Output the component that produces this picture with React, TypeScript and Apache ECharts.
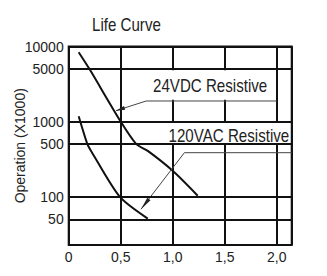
import React, { useEffect, useRef } from "react";
import * as echarts from "echarts";

const titleText = "Life Curve";
const yAxisName = "Operation (X1000)";
const xTickValues = [0, 0.5, 1.0, 1.5, 2.0];
const yGridValues = [10000, 5000, 1000, 500, 100, 50];
const labelNames = ["24VDC Resistive", "120VAC Resistive"];

// 24VDC Resistive curve
const vdcX = [0.096, 0.2, 0.5, 0.65, 0.76, 1.0, 1.24];
const vdcY = [8400, 5000, 1000, 500, 407, 221, 103];
// 120VAC Resistive curve
const vacX = [0.096, 0.18, 0.218, 0.49, 0.76];
const vacY = [1180, 500, 400, 100, 51];

// annotation leaders (data coordinates)
const vdcLeaderX = [0.455, 0.745, 2.0];
const vdcLeaderY = [1397, 1880, 1880];
const vacLeaderX = [0.695, 1.112, 2.144];
const vacLeaderY = [68, 385, 385];
const vdcLabelPos = [1.36, 3000];
const vacLabelPos = [1.54, 650];
const vdcBox = [[0.72, 5000], [1.985, 1880]];
const vacBox = [[0.88, 1000], [2.13, 500]];
const titlePos = [0.555, 12000];

const X_MAX = 2.144;
const Y_MIN = 22.7;
const Y_MAX = 10000;

const FONT = "'Liberation Sans', Arial, sans-serif";
const INK = "#111";
const TXT = "#222";
const NARROW = 0.84;

function arrowHead(tip: number[], from: number[], len: number, hw: number) {
  const dx = from[0] - tip[0];
  const dy = from[1] - tip[1];
  const d = Math.hypot(dx, dy) || 1;
  const ux = dx / d, uy = dy / d;
  const bx = tip[0] + ux * len, by = tip[1] + uy * len;
  return [
    [tip[0], tip[1]],
    [bx - uy * hw, by + ux * hw],
    [bx + uy * hw, by - ux * hw],
  ];
}

export default function App() {
  const ref = useRef<HTMLDivElement>(null);
  useEffect(() => {
    if (!ref.current) return;
    const chart = echarts.init(ref.current, null, { renderer: "svg" });
    const zip = (xs: number[], ys: number[]) => xs.map((x, i) => [x, ys[i]]);
    chart.setOption({
      animation: false,
      grid: {
        left: 68.7,
        right: 35.3,
        top: 46.5,
        bottom: 31,
        show: true,
        borderColor: INK,
        borderWidth: 2,
        backgroundColor: "transparent",
      },
      xAxis: {
        type: "value",
        min: 0,
        max: X_MAX,
        interval: 0.5,
        axisLine: { show: false },
        axisTick: { show: false },
        splitLine: { show: true, lineStyle: { color: INK, width: 2 } },
        axisLabel: {
          margin: 5,
          fontSize: 14,
          color: TXT,
          fontFamily: FONT,
          formatter: (v: number) => {
            const hit = xTickValues.find((t) => Math.abs(t - v) < 1e-6);
            if (hit === undefined) return "";
            return hit === 0 ? "0" : hit.toFixed(1).replace(".", ",");
          },
        },
      },
      yAxis: {
        type: "log",
        logBase: 10,
        min: Y_MIN,
        max: Y_MAX,
        axisLine: { show: false },
        axisTick: { show: false },
        axisLabel: { show: false },
        splitLine: { show: false },
        minorSplitLine: { show: false },
        name: yAxisName,
        nameLocation: "middle",
        nameGap: 42,
        nameTextStyle: { fontSize: 14, color: TXT, fontFamily: FONT },
      },
      series: [
        {
          type: "line",
          name: labelNames[0],
          data: zip(vdcX, vdcY),
          smooth: 0.25,
          showSymbol: false,
          z: 3,
          lineStyle: { color: INK, width: 2 },
          markLine: {
            silent: true,
            symbol: ["none", "none"],
            lineStyle: { color: INK, width: 2, type: "solid" },
            label: {
              position: "start",
              distance: 5,
              formatter: (p: any) => String(p.value),
              fontSize: 14,
              color: TXT,
              fontFamily: FONT,
            },
            data: yGridValues.map((v) => ({ yAxis: v })),
          },
        },
        {
          type: "line",
          name: labelNames[1],
          data: zip(vacX, vacY),
          smooth: 0.25,
          showSymbol: false,
          z: 3,
          lineStyle: { color: INK, width: 2 },
        },
        {
          type: "line",
          data: zip(vdcLeaderX, vdcLeaderY),
          showSymbol: false,
          z: 4,
          lineStyle: { color: "#444", width: 1 },
        },
        {
          type: "line",
          data: zip(vacLeaderX, vacLeaderY),
          showSymbol: false,
          z: 4,
          lineStyle: { color: "#444", width: 1 },
        },
      ],
    });

    const px = (p: number[]) => chart.convertToPixel({ gridIndex: 0 }, p) as number[];
    const rectOf = (b: number[][], inset: number) => {
      const a = px(b[0]);
      const c = px(b[1]);
      return {
        x: Math.min(a[0], c[0]),
        y: Math.min(a[1], c[1]) + inset,
        width: Math.abs(c[0] - a[0]),
        height: Math.abs(c[1] - a[1]) - 2 * inset,
      };
    };
    const vTip = px([vdcLeaderX[0], vdcLeaderY[0]]);
    const vBend = px([vdcLeaderX[1], vdcLeaderY[1]]);
    const aTip = px([vacLeaderX[0], vacLeaderY[0]]);
    const aBend = px([vacLeaderX[1], vacLeaderY[1]]);
    const vl = px(vdcLabelPos);
    const al = px(vacLabelPos);
    // title sits above the plot; place it from the grid's top-left corner
    const topLeft = px([0, Y_MAX]);
    const tx = topLeft[0] + titlePos[0] * (px([1, Y_MAX])[0] - topLeft[0]);
    const ty = topLeft[1] - 21;

    const narrowText = (text: string, x: number, y: number) => ({
      type: "text",
      z: 5,
      x,
      y,
      scaleX: NARROW,
      style: {
        text,
        fill: TXT,
        fontSize: 18,
        fontFamily: FONT,
        align: "center",
        verticalAlign: "middle",
      },
    });

    chart.setOption({
      graphic: [
        { type: "rect", z: 1, shape: rectOf(vdcBox, 1.2), style: { fill: "#fff" } },
        { type: "rect", z: 1, shape: rectOf(vacBox, 1.2), style: { fill: "#fff" } },
        {
          type: "polygon",
          z: 5,
          shape: { points: arrowHead(vTip, vBend, 9, 2) },
          style: { fill: "#222" },
        },
        {
          type: "polygon",
          z: 5,
          shape: { points: arrowHead(aTip, aBend, 13, 2) },
          style: { fill: "#222" },
        },
        narrowText(titleText, tx, ty),
        narrowText(labelNames[0], vl[0], vl[1]),
        narrowText(labelNames[1], al[0], al[1]),
      ],
    });
    return () => chart.dispose();
  }, []);
  return (
    <div
      ref={ref}
      style={{ position: "fixed", left: 0, top: 0, width: 327, height: 276, background: "#fff" }}
    />
  );
}
